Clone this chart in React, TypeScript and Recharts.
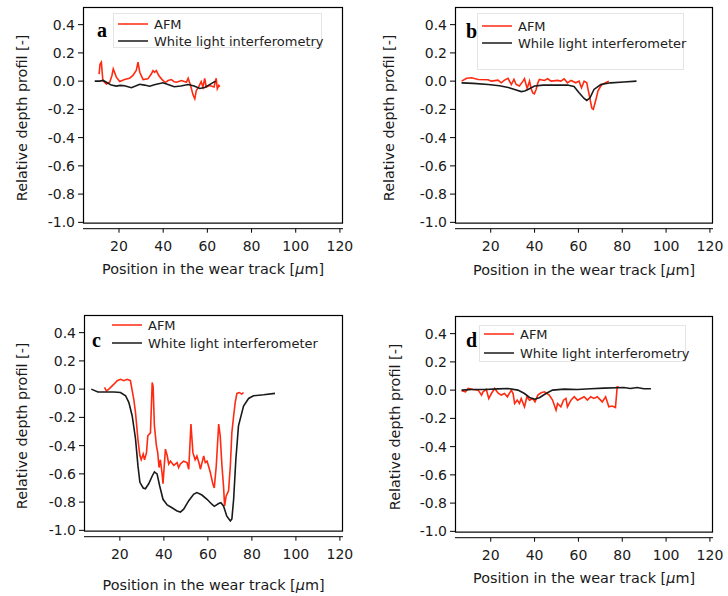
import { LineChart, Line, XAxis, YAxis, Legend } from "recharts";

// -------------------------
// AXES
// -------------------------
const xTicks = [20, 40, 60, 80, 100, 120];
const yTicks = [-1.0, -0.8, -0.6, -0.4, -0.2, 0.0, 0.2, 0.4];
const X_DOMAIN: [number, number] = [3.7, 121.4];
const Y_DOMAIN: [number, number] = [-1.045, 0.525];
const FRAME_BOTTOM = -1.009;

// -------------------------
// DATA  [position µm, relative depth]
// -------------------------
const afmA: [number, number][] = [
  [11.0, 0.05], [11.4, 0.12], [12.0, 0.134], [12.7, 0.004], [14.3, -0.02], [15.8, -0.008],
  [16.8, 0.04], [17.4, 0.087], [18.8, 0.028], [20.3, -0.003], [22.5, 0.011], [24.8, 0.021],
  [26.3, 0.04], [27.8, 0.075], [28.6, 0.134], [29.4, 0.063], [30.9, 0.011], [33.1, 0.016],
  [34.6, 0.05], [35.4, 0.075], [36.1, 0.063], [36.9, 0.075], [38.0, 0.04], [39.5, 0.011],
  [41.0, -0.01], [42.2, 0.004], [43.7, 0.011], [45.0, -0.005], [46.0, -0.008], [48.3, 0.004],
  [50.5, -0.008], [51.3, 0.021], [52.4, -0.031], [53.5, -0.097], [54.3, -0.125], [55.0, -0.066],
  [56.0, -0.042], [57.2, -0.003], [58.0, -0.042], [58.8, 0.02], [59.5, -0.042], [61.0, -0.031],
  [63.0, -0.042], [64.0, 0.02], [64.5, -0.054], [65.2, -0.03], [65.6, -0.04],
];
const wliA: [number, number][] = [
  [9, 0], [11.3, 0], [12.8, 0.005], [14.5, -0.01], [16.5, -0.028], [18.8, -0.035], [20.5, -0.03],
  [22.5, -0.033], [25.6, -0.047], [27.5, -0.035], [29.4, -0.022], [31.5, -0.028], [33.9, -0.036],
  [36, -0.025], [39.9, -0.012], [42.5, -0.025], [45, -0.04], [48, -0.035], [51.3, -0.024],
  [54, -0.035], [56.6, -0.052], [58.8, -0.045], [61, -0.025], [63.7, 0],
];

const afmB: [number, number][] = [
  [6.7, 0], [9, 0.02], [11.2, 0.024], [14.3, 0.012], [18.8, 0.01], [20.3, 0], [23.3, 0.007],
  [24.8, -0.012], [26.3, 0.007], [27.9, 0.02], [29.4, -0.024], [30.6, 0.012], [31.6, -0.024],
  [33.1, -0.035], [34.7, 0], [35.4, 0.017], [36.6, -0.052], [37.7, 0], [38.4, -0.052],
  [39.2, -0.083], [39.9, -0.09], [40.7, -0.059], [41.5, -0.012], [42.2, 0.012], [44.5, 0.005],
  [46, 0.017], [47.5, 0], [50.5, 0.005], [52, 0], [53.5, 0.017], [55, -0.012], [56.6, 0.005],
  [58.8, -0.012], [60.3, 0], [61.4, -0.047], [62.6, 0], [63.8, -0.012], [64.9, -0.095],
  [66.1, -0.19], [66.8, -0.2], [67.4, -0.165], [68.2, -0.118], [68.9, -0.071], [70.2, -0.035],
  [70.9, -0.024], [72.4, -0.012], [73.9, 0],
];
const wliB: [number, number][] = [
  [6.7, -0.012], [12, -0.016], [18.8, -0.024], [24, -0.033], [28, -0.045], [30.9, -0.059],
  [33.9, -0.074], [35.5, -0.07], [37, -0.059], [40, -0.035], [44, -0.028], [50, -0.028],
  [55, -0.028], [58, -0.038], [60.3, -0.083], [62.6, -0.123], [63.8, -0.137], [65.3, -0.118],
  [67.1, -0.059], [70.2, -0.024], [74.7, -0.012], [80.7, -0.006], [86.5, 0],
];

const afmC: [number, number][] = [
  [13, 0.012], [13.9, -0.012], [15, 0], [17.3, 0.035], [18.8, 0.06], [20.3, 0.07], [21.8, 0.06],
  [23.3, 0.07], [24.8, 0.06], [25.6, -0.01], [26.3, -0.07], [27.1, -0.165], [28.2, -0.355],
  [29.1, -0.47], [29.7, -0.5], [30.6, -0.46], [31.2, -0.5], [32.1, -0.45], [32.7, -0.33],
  [33.9, -0.31], [34.7, 0.047], [35.1, 0.02], [35.7, -0.26], [36.6, -0.4], [37.2, -0.45],
  [37.8, -0.555], [38.4, -0.5], [39.2, -0.6], [39.6, -0.67], [40.7, -0.425], [41.5, -0.47],
  [42.2, -0.53], [43, -0.51], [44.5, -0.54], [46, -0.52], [46.7, -0.555], [47.5, -0.53],
  [49, -0.51], [50.5, -0.52], [51.3, -0.567], [52.3, -0.248], [53.2, -0.45], [54.2, -0.5],
  [55, -0.473], [56.1, -0.53], [56.6, -0.567], [58.1, -0.473], [58.8, -0.52], [59.6, -0.51],
  [60.3, -0.545], [61.1, -0.59], [62.3, -0.674], [62.9, -0.7], [63.8, -0.544], [64.9, -0.248],
  [65.6, -0.33], [66.4, -0.544], [67.1, -0.686], [67.6, -0.827], [68.3, -0.756], [69.4, -0.72],
  [70.2, -0.544], [70.9, -0.307], [71.7, -0.19], [72.4, -0.095], [73.2, -0.03], [74.3, -0.024],
  [75.4, -0.035], [76.2, -0.024],
];
const wliC: [number, number][] = [
  [7, 0], [10, -0.02], [17.3, -0.02], [20.3, -0.024], [22.6, -0.047], [24.1, -0.095],
  [25.6, -0.19], [27.1, -0.35], [28.2, -0.54], [29.1, -0.66], [30.6, -0.7], [31.6, -0.705],
  [33.1, -0.67], [34.7, -0.615], [35.7, -0.586], [36.9, -0.6], [38.1, -0.686], [39.6, -0.78],
  [41.5, -0.82], [43.7, -0.84], [46, -0.863], [47.5, -0.87], [49, -0.85], [51.3, -0.79],
  [53.5, -0.745], [55, -0.733], [57.3, -0.75], [59.6, -0.78], [61.8, -0.815], [62.9, -0.83],
  [64.9, -0.81], [65.9, -0.804], [67.1, -0.827], [68.6, -0.9], [70.2, -0.934], [70.9, -0.92],
  [71.7, -0.78], [72.7, -0.5], [73.9, -0.26], [76.2, -0.12], [78.5, -0.066], [80.7, -0.047],
  [85.3, -0.04], [90.5, -0.03],
];

const afmD: [number, number][] = [
  [6.7, -0.005], [8.5, -0.012], [9.7, 0.012], [12, 0.005], [14.3, 0], [15.8, -0.035],
  [16.5, -0.012], [18, 0.005], [19.1, -0.06], [20.3, -0.024], [21.8, 0.012], [23.3, -0.02],
  [24.8, -0.035], [26.3, -0.024], [27.6, -0.047], [29.4, 0], [30.2, -0.024], [30.9, -0.095],
  [32.1, -0.071], [33.1, -0.095], [33.9, -0.059], [35.4, -0.118], [36.5, -0.047], [37.7, -0.071],
  [39.2, -0.059], [40.2, -0.083], [41.5, -0.035], [43, -0.019], [44.5, -0.012], [46.7, -0.035],
  [48.2, -0.07], [49.8, -0.142], [50.5, -0.095], [52, -0.118], [53.2, -0.071], [54.3, -0.059],
  [55, -0.118], [56.6, -0.071], [58.1, -0.047], [59.6, -0.071], [61.1, -0.059], [62.6, -0.047],
  [64.1, -0.07], [65.6, -0.047], [67.1, -0.059], [68.6, -0.047], [70.9, -0.083], [72.4, -0.047],
  [73.9, -0.118], [75.4, -0.113], [76.9, -0.123], [77.7, 0.024], [78.5, 0.02],
];
const wliD: [number, number][] = [
  [6.7, 0], [11.3, 0.005], [17.3, 0.005], [23.3, 0.009], [27.9, 0.012], [32.4, 0],
  [35.4, -0.024], [37.7, -0.052], [40, -0.064], [42.2, -0.054], [45.2, -0.024], [48.2, 0],
  [53.5, 0.007], [59.6, 0.005], [65.6, 0.01], [71.7, 0.014], [77.7, 0.017], [80.7, 0.019],
  [83.7, 0.012], [86.8, 0.019], [89.8, 0.01], [93.1, 0.01],
];

const toRows = (pts: [number, number][]) => pts.map(([x, y]) => ({ x, y }));

const RED = "#ff2a10";
const INK = "#1a1a1a";

type PanelCfg = {
  letter: string;
  left: number;
  top: number;
  height: number;
  plotLeft: number;
  plotTop: number;
  rightGap: number;
  yLabelX: number;
  xLabelDy: number;
  letterX: number;
  letterY: number;
  legend: { left: number; top: number; width: number; height: number; border: boolean; rows: number[] };
  wliName: string;
  afm: [number, number][];
  wli: [number, number][];
};

const panels: PanelCfg[] = [
  {
    letter: "a", left: 0, top: 0, height: 290, plotLeft: 83, plotTop: 7, rightGap: 21,
    yLabelX: 22, xLabelDy: 40, letterX: 97, letterY: 37,
    legend: { left: 113, top: 13, width: 209, height: 35, border: true, rows: [10, 27] },
    wliName: "White light interferometry", afm: afmA, wli: wliA,
  },
  {
    letter: "b", left: 364, top: 0, height: 290, plotLeft: 91, plotTop: 7, rightGap: 15,
    yLabelX: 25, xLabelDy: 41, letterX: 102, letterY: 38,
    legend: { left: 113, top: 13, width: 207, height: 57, border: true, rows: [12, 29] },
    wliName: "While light interferometer", afm: afmB, wli: wliB,
  },
  {
    letter: "c", left: 0, top: 300, height: 296, plotLeft: 84, plotTop: 15, rightGap: 21,
    yLabelX: 22, xLabelDy: 48, letterX: 92, letterY: 47,
    legend: { left: 108, top: 15, width: 210, height: 38, border: false, rows: [10, 28] },
    wliName: "White light interferometer", afm: afmC, wli: wliC,
  },
  {
    letter: "d", left: 364, top: 300, height: 296, plotLeft: 91, plotTop: 16, rightGap: 15,
    yLabelX: 31, xLabelDy: 40, letterX: 102, letterY: 47,
    legend: { left: 115, top: 25, width: 207, height: 37, border: true, rows: [8, 27] },
    wliName: "White light interferometry", afm: afmD, wli: wliD,
  },
];

const PLOT_H = 221.7;
const PANEL_W = 364;

function Panel({ p }: { p: PanelCfg }) {
  const bottom = p.height - p.plotTop - PLOT_H;
  // plot frame (box round the data area, x axis sits a little below it)
  const frameRight = PANEL_W - p.rightGap;
  const frameBottom =
    p.plotTop + ((Y_DOMAIN[1] - FRAME_BOTTOM) / (Y_DOMAIN[1] - Y_DOMAIN[0])) * PLOT_H;

  const legendContent = (props: any) => (
    <div style={{ position: "relative", width: "100%", height: "100%" }}>
      {(props.payload ?? []).map((e: any, i: number) => (
        <div
          key={e.value}
          style={{
            position: "absolute",
            left: 4,
            top: p.legend.rows[i] - 8,
            height: 16,
            display: "flex",
            alignItems: "center",
            whiteSpace: "nowrap",
            fontSize: 13,
            color: "#222",
          }}
        >
          <svg width={30} height={16} style={{ marginRight: 6 }}>
            <line x1={0} y1={8} x2={30} y2={8} stroke={e.color} strokeWidth={1.5} />
          </svg>
          {e.value}
        </div>
      ))}
    </div>
  );

  return (
    <div style={{ position: "absolute", left: p.left, top: p.top, width: PANEL_W, height: p.height }}>
      <LineChart
        width={PANEL_W}
        height={p.height}
        margin={{ top: p.plotTop, right: p.rightGap, left: 0, bottom: bottom - 50 }}
      >
        <XAxis
          dataKey="x"
          type="number"
          domain={X_DOMAIN}
          ticks={xTicks}
          allowDataOverflow
          height={50}
          tickSize={4}
          tickMargin={8}
          stroke="#000"
          tick={{ fontSize: 14, fill: "#1a1a1a" }}
          label={(lp: any) => {
            const vb = lp.viewBox;
            return (
              <text
                x={vb.x + vb.width / 2}
                y={vb.y + p.xLabelDy + 5}
                textAnchor="middle"
                fontSize={14.4}
                fill="#1a1a1a"
              >
                Position in the wear track [<tspan fontStyle="italic">µ</tspan>m]
              </text>
            );
          }}
        />
        <YAxis
          type="number"
          domain={Y_DOMAIN}
          ticks={yTicks}
          allowDataOverflow
          width={p.plotLeft}
          axisLine={false}
          tickSize={5}
          tickMargin={3}
          stroke="#000"
          tick={{ fontSize: 14, fill: "#1a1a1a" }}
          tickFormatter={(v: number) => v.toFixed(1)}
          label={(lp: any) => {
            const vb = lp.viewBox;
            const cy = vb.y + vb.height / 2;
            return (
              <text
                x={p.yLabelX}
                y={cy}
                transform={`rotate(-90, ${p.yLabelX}, ${cy})`}
                textAnchor="middle"
                dominantBaseline="central"
                fontSize={14.4}
                fill="#1a1a1a"
              >
                Relative depth profil [-]
              </text>
            );
          }}
        />
        <Line
          data={toRows(p.afm)}
          dataKey="y"
          name="AFM"
          stroke={RED}
          strokeWidth={1.6}
          dot={false}
          activeDot={false}
          isAnimationActive={false}
        />
        <Line
          data={toRows(p.wli)}
          dataKey="y"
          name={p.wliName}
          stroke={INK}
          strokeWidth={1.6}
          dot={false}
          activeDot={false}
          isAnimationActive={false}
        />
        <Legend
          layout="vertical"
          align="center"
          verticalAlign="middle"
          content={legendContent}
          wrapperStyle={{
            left: p.legend.left,
            top: p.legend.top,
            width: p.legend.width,
            height: p.legend.height,
            border: p.legend.border ? "1px solid #e4e4e4" : "none",
            boxSizing: "border-box",
            background: "transparent",
          }}
        />
      </LineChart>
      <svg
        width={PANEL_W}
        height={p.height}
        style={{ position: "absolute", left: 0, top: 0, pointerEvents: "none" }}
      >
        <rect
          x={p.plotLeft + 0.5}
          y={p.plotTop + 0.5}
          width={frameRight - p.plotLeft - 1}
          height={frameBottom - p.plotTop - 1}
          fill="none"
          stroke="#000"
          strokeWidth={1.2}
        />
        <text
          x={p.letterX}
          y={p.letterY}
          fontFamily="'Liberation Serif', serif"
          fontWeight="bold"
          fontSize={20}
          fill="#000"
        >
          {p.letter}
        </text>
      </svg>
    </div>
  );
}

export default function App() {
  return (
    <div
      style={{
        position: "absolute",
        left: 0,
        top: 0,
        width: 728,
        height: 596,
        background: "#fff",
        fontFamily: "'DejaVu Sans', sans-serif",
      }}
    >
      {panels.map((p) => (
        <Panel key={p.letter} p={p} />
      ))}
    </div>
  );
}
